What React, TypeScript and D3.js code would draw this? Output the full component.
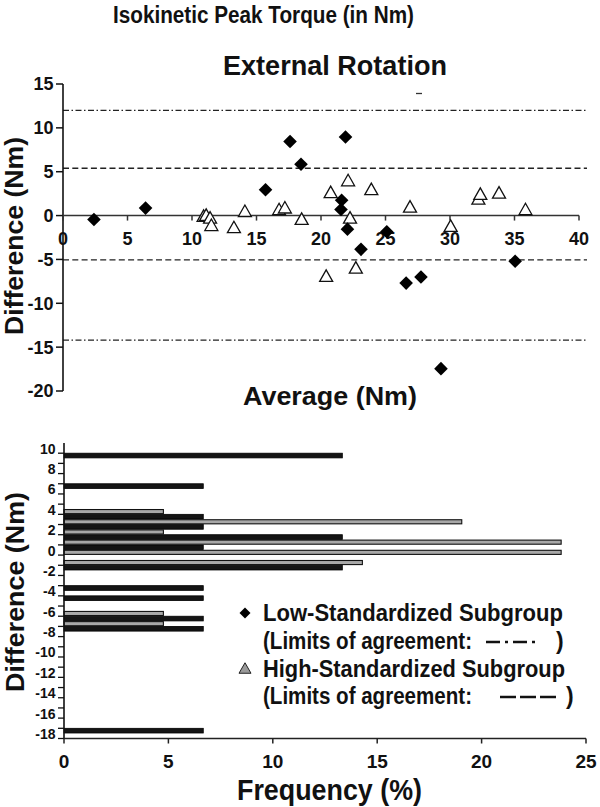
import React from 'react';
import * as d3 from 'd3';

// ---------- Data: Bland-Altman scatter (External Rotation) ----------
const lowAvg = [2.4, 6.4, 15.7, 17.6, 18.45, 21.9, 21.6, 21.55, 22.05, 23.1, 25.1, 26.6, 27.75, 29.3, 35.05];
const lowDiff = [-0.45, 0.85, 2.95, 8.45, 5.85, 8.95, 1.75, 0.7, -1.55, -3.85, -1.85, -7.7, -7.0, -17.45, -5.2];

const highAvg = [10.9, 11.1, 11.4, 11.5, 13.25, 14.1, 16.75, 17.2, 18.5, 20.75, 22.1, 22.25, 23.9, 26.9, 30.05, 32.2, 32.35, 33.8, 35.85, 20.4, 22.7];
const highDiff = [0.0, 0.1, -0.2, -1.05, -1.3, 0.55, 0.75, 0.95, -0.35, 2.7, 4.05, -0.2, 3.05, 1.05, -1.15, 1.95, 2.5, 2.65, 0.75, -6.85, -5.9];

const lowLimits = [12.0, -14.2];
const highLimits = [5.4, -5.05];

const scatterXTicks = [0, 5, 10, 15, 20, 25, 30, 35, 40];
const scatterYTicks = [15, 10, 5, 0, -5, -10, -15, -20];

// ---------- Data: histogram of differences ----------
const lowBinTop = [10, 7, 4, 3, 2, 1, -1, -3, -4, -6, -7, -17];
const lowFreq = [13.33, 6.67, 6.67, 6.67, 13.33, 6.67, 13.33, 6.67, 6.67, 6.67, 6.67, 6.67];
const highBinTop = [4.5, 3.5, 2.5, 1.5, 0.5, -0.5, -5.5, -6.5];
const highFreq = [4.76, 19.05, 4.76, 23.81, 23.81, 14.29, 4.76, 4.76];
const binWidth = 0.5;

const freqTicks = [0, 5, 10, 15, 20, 25];
const histYLabels = [10, 8, 6, 4, 2, 0, -2, -4, -6, -8, -10, -12, -14, -16, -18];

const FONT = '"Liberation Sans", Arial, Helvetica, sans-serif';

const diamond = (x: number, y: number, r: number) =>
  `M${x},${y - r}L${x + r},${y}L${x},${y + r}L${x - r},${y}Z`;
const triangle = (x: number, y: number, w: number, h: number) =>
  `M${x},${y - h / 2}L${x + w / 2},${y + h / 2}L${x - w / 2},${y + h / 2}Z`;

export default function App() {
  const xS = d3.scaleLinear().domain([0, 40]).range([63, 579]);
  const yS = d3.scaleLinear().domain([-20, 15]).range([391, 84]);
  const xH = d3.scaleLinear().domain([0, 25]).range([64, 586]);
  const yH = d3.scaleLinear().domain([-18, 10]).range([738.5, 453.2]);
  const histTicks = d3.range(-18, 11, 1);

  const dashDot = '6,2.5,1.5,2.5';
  const dashed = '6,3.3';

  return (
    <svg width={600} height={807} style={{ position: 'absolute', left: 0, top: 0, background: '#fff' }}
      fontFamily={FONT} fontWeight="bold">
      <rect x={0} y={0} width={600} height={807} fill="#fff" />
      {/* Titles */}
      <text x={113} y={23} fontSize={23} textLength={301} lengthAdjust="spacingAndGlyphs" fill="#111">
        Isokinetic Peak Torque (in Nm)
      </text>
      <text x={223} y={75} fontSize={27} textLength={224} lengthAdjust="spacingAndGlyphs" fill="#111">
        External Rotation
      </text>
      <line x1={416} x2={422} y1={93.5} y2={93.5} stroke="#333" strokeWidth={1.3} />

      {/* Scatter: limits of agreement */}
      {lowLimits.map((v, i) => (
        <line key={'ll' + i} x1={xS(0)} x2={587} y1={yS(v)} y2={yS(v)} stroke="#222" strokeWidth={1.3} strokeDasharray={dashDot} />
      ))}
      {highLimits.map((v, i) => (
        <line key={'hl' + i} x1={xS(0)} x2={587} y1={yS(v)} y2={yS(v)} stroke="#222" strokeWidth={1.4} strokeDasharray={dashed} />
      ))}

      {/* Scatter axes */}
      <line x1={xS(0)} x2={xS(0)} y1={yS(15)} y2={yS(-20)} stroke="#111" strokeWidth={1.6} />
      <line x1={xS(0)} x2={xS(40)} y1={yS(0)} y2={yS(0)} stroke="#333" strokeWidth={1.6} />
      {scatterYTicks.map((t) => (
        <g key={'sy' + t}>
          <line x1={xS(0) - 7} x2={xS(0)} y1={yS(t)} y2={yS(t)} stroke="#111" strokeWidth={1.5} />
          <text x={53.5} y={yS(t)} dy="0.36em" textAnchor="end" fontSize={18} fill="#111">{t}</text>
        </g>
      ))}
      {scatterXTicks.map((t) => (
        <g key={'sx' + t}>
          <line x1={xS(t)} x2={xS(t)} y1={yS(0)} y2={yS(0) + 5} stroke="#333" strokeWidth={1.5} />
          <text x={xS(t)} y={245} textAnchor="middle" fontSize={18} fill="#111">{t}</text>
        </g>
      ))}

      {/* Scatter points */}
      {highAvg.map((a, i) => (
        <path key={'hp' + i} d={triangle(xS(a), yS(highDiff[i]), 13, 11.5)} fill="#fff" stroke="#111" strokeWidth={1.3} />
      ))}
      {lowAvg.map((a, i) => (
        <path key={'lp' + i} d={diamond(xS(a), yS(lowDiff[i]), 6.8)} fill="#000" />
      ))}

      <text x={243} y={405} fontSize={26} textLength={174} lengthAdjust="spacingAndGlyphs" fill="#111">
        Average (Nm)
      </text>
      <text transform={`translate(22.5,236) rotate(-90)`} textAnchor="middle" fontSize={26} textLength={198}
        lengthAdjust="spacingAndGlyphs" fill="#111">
        Difference (Nm)
      </text>

      {/* Histogram */}
      {lowBinTop.map((b, i) => (
        <rect key={'lb' + i} x={xH(0)} y={yH(b)} width={xH(lowFreq[i]) - xH(0)}
          height={yH(b - binWidth) - yH(b) - 0.4} fill="#141414" stroke="#000" strokeWidth={0.8} />
      ))}
      {highBinTop.map((b, i) => (
        <rect key={'hb' + i} x={xH(0)} y={yH(b) + 0.3} width={xH(highFreq[i]) - xH(0)}
          height={yH(b - binWidth) - yH(b) - 1} fill="#a8a8a8" stroke="#111" strokeWidth={1.1} />
      ))}

      <line x1={xH(0)} x2={xH(0)} y1={yH(11)} y2={yH(-18)} stroke="#111" strokeWidth={1.6} />
      <line x1={xH(0)} x2={xH(25)} y1={yH(-18)} y2={yH(-18)} stroke="#222" strokeWidth={1.5} />
      {histTicks.map((t) => (
        <line key={'ht' + t} x1={xH(0) - 6} x2={xH(0)} y1={yH(t)} y2={yH(t)} stroke="#111" strokeWidth={1.3} />
      ))}
      {histYLabels.map((t) => (
        <text key={'hl' + t} x={55.5} y={yH(t) + 0.5} textAnchor="end" fontSize={14} fill="#111">{t}</text>
      ))}
      {freqTicks.map((t) => (
        <g key={'ft' + t}>
          <line x1={xH(t)} x2={xH(t)} y1={yH(-18)} y2={yH(-18) + 5} stroke="#222" strokeWidth={1.5} />
          <text x={xH(t)} y={767.5} textAnchor="middle" fontSize={19} fill="#111">{t}</text>
        </g>
      ))}
      <text x={237} y={800} fontSize={29} textLength={185} lengthAdjust="spacingAndGlyphs" fill="#111">
        Frequency (%)
      </text>
      <text transform={`translate(23.5,592) rotate(-90)`} textAnchor="middle" fontSize={26} textLength={200}
        lengthAdjust="spacingAndGlyphs" fill="#111">
        Difference (Nm)
      </text>

      {/* Legend */}
      <path d={diamond(245, 613, 5.5)} fill="#000" />
      <text x={263} y={621} fontSize={23} textLength={300} lengthAdjust="spacingAndGlyphs" fill="#111">
        Low-Standardized Subgroup
      </text>
      <text x={263} y={649} fontSize={23} textLength={209} lengthAdjust="spacingAndGlyphs" fill="#111">
        (Limits of agreement:
      </text>
      <line x1={486} x2={536} y1={642} y2={642} stroke="#111" strokeWidth={2.5} strokeDasharray="14,5,3,5" />
      <text x={556} y={649} fontSize={23} fill="#111">)</text>

      <path d={triangle(245, 668, 12, 10.5)} fill="#9a9a9a" stroke="#222" strokeWidth={1} />
      <text x={263} y={676.5} fontSize={23} textLength={302} lengthAdjust="spacingAndGlyphs" fill="#111">
        High-Standardized Subgroup
      </text>
      <text x={263} y={704} fontSize={23} textLength={209} lengthAdjust="spacingAndGlyphs" fill="#111">
        (Limits of agreement:
      </text>
      <line x1={500} x2={556} y1={697} y2={697} stroke="#111" strokeWidth={2.5} strokeDasharray="16,4" />
      <text x={566} y={704} fontSize={23} fill="#111">)</text>
    </svg>
  );
}
